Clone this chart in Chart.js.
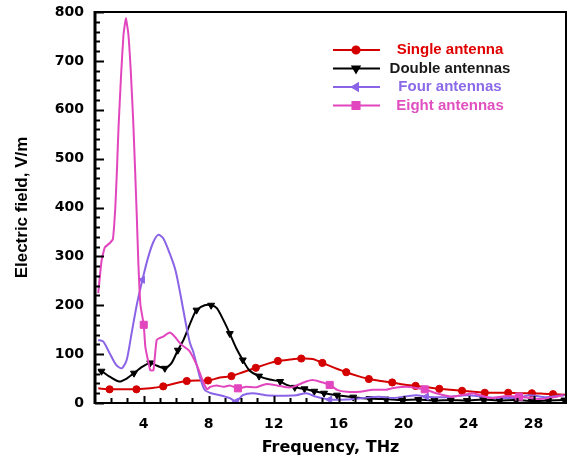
<!DOCTYPE html>
<html>
<head>
<meta charset="utf-8">
<script src="https://cdn.jsdelivr.net/npm/chart.js@4.4.1/dist/chart.umd.min.js"></script>
<style>
  html, body { margin: 0; padding: 0; background: #ffffff; }
</style>
</head>
<body>
<canvas id="fieldChart" width="571" height="460"></canvas>
<script>
// Electric field vs frequency for 1, 2, 4 and 8 antennas

const xTicks = [4, 8, 12, 16, 20, 24, 28];
const yTicks = [0, 100, 200, 300, 400, 500, 600, 700, 800];

const singleFreq = [1.2, 1.9, 2.7, 3.55, 4.4, 5.2, 5.9, 6.65, 7.3, 7.96, 8.7, 9.4, 10.1, 10.9, 11.6, 12.26, 13.0, 13.7, 14.4, 15.0, 15.75, 16.47, 17.2, 17.86, 18.6, 19.3, 20.0, 20.74, 21.5, 22.2, 22.9, 23.6, 24.3, 25.0, 25.7, 26.44, 27.2, 27.9, 28.6, 29.2, 30];
const singleField = [30, 28, 28, 28, 30, 34, 40, 45, 46, 46, 52, 55, 63, 72, 80, 86, 89, 91, 90, 82, 72, 63, 55, 49, 45, 42, 38, 35, 32, 29, 27, 25, 23, 21, 21, 21, 20, 20, 19, 18, 17];
const singleMarks = [1.9, 3.55, 5.2, 6.65, 7.96, 9.4, 10.9, 12.26, 13.7, 15.0, 16.47, 17.86, 19.3, 20.74, 22.2, 23.6, 25.0, 26.44, 27.9, 29.2];

const doubleFreq = [1.2, 1.4, 1.9, 2.5, 2.95, 3.4, 3.9, 4.4, 4.7, 5.3, 5.7, 6.1, 6.45, 6.95, 7.25, 7.75, 8.15, 8.5, 8.9, 9.3, 9.7, 10.1, 10.5, 11.1, 11.75, 12.4, 12.8, 13.3, 13.9, 14.5, 15.1, 15.9, 16.9, 17.9, 18.9, 19.9, 20.9, 21.9, 22.9, 23.9, 24.9, 25.9, 26.9, 27.9, 28.9, 29.9];
const doubleField = [67, 65, 54, 44, 50, 61, 74, 82, 78, 71, 81, 108, 129, 170, 190, 200, 200, 194, 170, 142, 112, 88, 67, 55, 48, 44, 37, 32, 29, 24, 20, 16, 12, 9, 8, 6, 7, 5, 6, 5, 7, 5, 6, 4, 5, 6];
const doubleMarks = [1.4, 3.4, 4.4, 5.3, 6.1, 7.25, 8.15, 9.3, 10.1, 11.1, 12.4, 13.3, 13.9, 14.5, 15.1, 15.9, 16.9, 17.9, 18.9, 19.9, 20.9, 21.9, 22.9, 23.9, 24.9, 25.9, 26.9, 27.9, 28.9, 29.9];

const fourFreq = [1.2, 1.5, 1.9, 2.3, 2.65, 2.95, 3.25, 3.55, 3.92, 4.28, 4.6, 4.9, 5.2, 5.6, 5.95, 6.25, 6.55, 6.85, 7.05, 7.45, 7.75, 8.15, 8.7, 9.3, 9.7, 10.1, 10.7, 11.5, 12.4, 13.4, 14.0, 14.6, 15.45, 16.5, 17.5, 18.5, 19.3, 20.2, 20.8, 21.4, 22.6, 23.9, 25.1, 26.7, 27.2, 27.75, 28.8, 29.9];
const fourField = [129, 126, 102, 78, 71, 88, 142, 197, 252, 299, 330, 344, 337, 306, 272, 224, 170, 122, 105, 54, 27, 20, 16, 10, 3, 16, 20, 16, 15, 16, 20, 13, 7, 7, 10, 13, 10, 14, 16, 13, 12, 16, 12, 10, 12, 16, 12, 16];
const fourMarks = [3.92, 9.7, 15.45, 21.4, 27.2];

const eightFreq = [1.2, 1.4, 1.6, 1.9, 2.1, 2.25, 2.35, 2.45, 2.6, 2.75, 2.9, 3.05, 3.2, 3.35, 3.47, 3.57, 3.67, 3.8, 4.0, 4.1, 4.4, 4.6, 4.8, 5.2, 5.6, 5.9, 6.3, 6.8, 7.3, 7.65, 7.9, 8.1, 8.5, 8.9, 9.3, 9.8, 10.3, 10.9, 11.55, 12.2, 12.8, 13.2, 14.0, 14.4, 14.8, 15.45, 15.9, 16.5, 17.3, 18.1, 18.9, 19.3, 20.2, 21.3, 22.0, 23.0, 24.3, 25.3, 26.2, 27.1, 28.4, 29.3, 29.8];
const eightField = [225, 290, 318, 327, 335, 400, 476, 565, 667, 752, 787, 756, 681, 579, 476, 385, 286, 200, 160, 115, 67, 67, 129, 136, 144, 136, 120, 107, 75, 44, 28, 33, 36, 33, 36, 30, 33, 32, 39, 36, 32, 33, 44, 47, 44, 37, 27, 23, 23, 27, 27, 30, 33, 28, 20, 13, 20, 10, 14, 13, 8, 12, 16];
const eightMarks = [4.0, 9.8, 15.45, 21.3, 27.1];

const seriesNames = ['Single antenna', 'Double antennas', 'Four antennas', 'Eight antennas'];

const colors = {
    single: '#d40000',
    double: '#000000',
    four: '#8a63e6',
    eight: '#e246be'
};

function toPoints(freq, field) {
    return freq.map((f, i) => ({ x: f, y: field[i] }));
}

function markerRadius(freq, marks, r) {
    return ctx => marks.includes(freq[ctx.dataIndex]) ? r : 0;
}

const seriesStyles = [
    { color: colors.single, textColor: '#e00000', style: 'circle', rotation: 0, radius: 3.6, tension: 0.25 },
    { color: colors.double, textColor: '#1a1a1a', style: 'triangle', rotation: 180, radius: 4, tension: 0.25 },
    { color: colors.four, textColor: '#8a6ae8', style: 'triangle', rotation: 270, radius: 4, tension: 0.25 },
    { color: colors.eight, textColor: '#e050c0', style: 'rect', rotation: 0, radius: 5, tension: 0.12 }
];

// ticks pointing into the plot, frame, axis titles and legend
const framePlugin = {
    id: 'frame',
    afterDatasetsDraw(chart) {
        const { ctx, chartArea: a, scales: { x, y } } = chart;
        ctx.save();
        ctx.strokeStyle = '#000';
        ctx.lineWidth = 2;
        ctx.beginPath();
        for (let v = 0; v <= 800; v += 20) {
            const py = Math.round(y.getPixelForValue(v)) + 0.5;
            const len = v % 100 === 0 ? 9 : 5;
            ctx.moveTo(a.left, py);
            ctx.lineTo(a.left + len, py);
        }
        for (let v = 2; v < 30; v += 1) {
            const px = Math.round(x.getPixelForValue(v)) + 0.5;
            const len = v % 4 === 0 ? 7 : 5;
            ctx.moveTo(px, a.bottom);
            ctx.lineTo(px, a.bottom - len);
        }
        ctx.stroke();
        ctx.lineWidth = 2;
        ctx.strokeRect(a.left, a.top, a.right - a.left, a.bottom - a.top);
        ctx.lineWidth = 3;
        ctx.beginPath();
        ctx.moveTo(a.left, a.top - 1);
        ctx.lineTo(a.left, a.bottom + 1);
        ctx.stroke();

        // axis titles
        ctx.fillStyle = '#000';
        ctx.textAlign = 'center';
        ctx.textBaseline = 'middle';
        ctx.font = 'bold 16px "DejaVu Sans"';
        ctx.fillText('Frequency, THz', (a.left + a.right) / 2, 448);
        ctx.save();
        ctx.translate(22, (a.top + a.bottom) / 2);
        ctx.rotate(-Math.PI / 2);
        ctx.font = 'bold 17px "Liberation Sans", Arial';
        ctx.fillText('Electric field, V/m', 0, 0);
        ctx.restore();

        // legend
        ctx.font = 'bold 15px "Liberation Sans", Arial';
        seriesNames.forEach((name, i) => {
            const s = seriesStyles[i];
            const ly = 50 + i * 18.5;
            ctx.strokeStyle = s.color;
            ctx.lineWidth = 2;
            ctx.beginPath();
            ctx.moveTo(333, ly);
            ctx.lineTo(380, ly);
            ctx.stroke();
            ctx.fillStyle = s.color;
            Chart.helpers.drawPoint(ctx, {
                pointStyle: s.style,
                rotation: s.rotation,
                radius: s.radius,
                borderWidth: 1
            }, 356, ly);
            ctx.fillStyle = s.textColor;
            ctx.fillText(name, 450, ly);
        });
        ctx.restore();
    }
};

const datasets = [
    [singleFreq, singleField, singleMarks],
    [doubleFreq, doubleField, doubleMarks],
    [fourFreq, fourField, fourMarks],
    [eightFreq, eightField, eightMarks]
].map(([freq, field, marks], i) => {
    const s = seriesStyles[i];
    return {
        label: seriesNames[i],
        data: toPoints(freq, field),
        borderColor: s.color,
        backgroundColor: s.color,
        borderWidth: 2,
        tension: s.tension,
        pointStyle: s.style,
        pointRotation: s.rotation,
        pointRadius: markerRadius(freq, marks, s.radius),
        pointBorderWidth: 1,
        order: 3 - i
    };
});

new Chart(document.getElementById('fieldChart'), {
    type: 'line',
    data: { datasets: datasets },
    plugins: [framePlugin],
    options: {
        responsive: false,
        animation: false,
        layout: { padding: { top: 12, right: 5, left: 0, bottom: 0 } },
        plugins: {
            legend: { display: false },
            tooltip: { enabled: false }
        },
        scales: {
            x: {
                type: 'linear',
                min: 1,
                max: 30,
                afterFit: scale => {
                    scale.height = 57;
                    scale.paddingLeft = 0;
                    scale.paddingRight = 0;
                },
                afterBuildTicks: scale => { scale.ticks = xTicks.map(v => ({ value: v })); },
                grid: { display: false, drawTicks: false },
                border: { display: false },
                ticks: {
                    padding: 13,
                    color: '#000',
                    font: { family: '"DejaVu Sans"', size: 14, weight: 'bold' }
                }
            },
            y: {
                min: 0,
                max: 800,
                afterFit: scale => {
                    scale.width = 95;
                    scale.paddingTop = 0;
                    scale.paddingBottom = 0;
                },
                afterBuildTicks: scale => { scale.ticks = yTicks.map(v => ({ value: v })); },
                grid: { display: false, drawTicks: false },
                border: { display: false },
                ticks: {
                    padding: 11,
                    color: '#000',
                    font: { family: '"DejaVu Sans"', size: 14, weight: 'bold' }
                }
            }
        }
    }
});
</script>
</body>
</html>
